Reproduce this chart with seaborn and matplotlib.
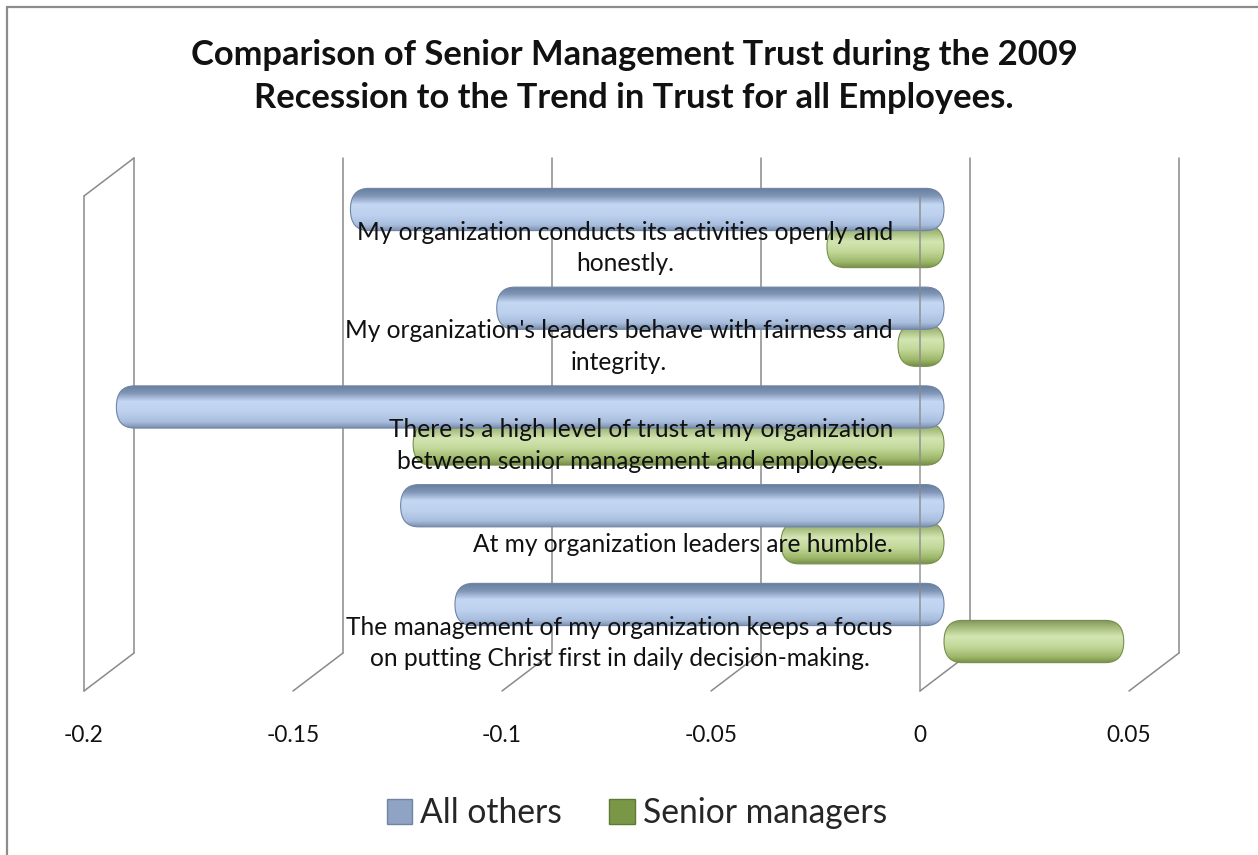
import numpy as np
import pandas as pd
import matplotlib
matplotlib.use("Agg")
import matplotlib.pyplot as plt
import seaborn as sns
from matplotlib.patches import FancyBboxPatch, Patch
from matplotlib.colors import LinearSegmentedColormap
from matplotlib.lines import Line2D

# ---------------- data ----------------
categories = [
    "My organization conducts its activities openly and\nhonestly.",
    "My organization's leaders behave with fairness and\nintegrity.",
    "There is a high level of trust at my organization\nbetween senior management and employees.",
    "At my organization leaders are humble.",
    "The management of my organization keeps a focus\non putting Christ first in daily decision-making.",
]
all_others = [-0.142, -0.107, -0.198, -0.130, -0.117]
senior_managers = [-0.028, -0.011, -0.127, -0.039, 0.043]
series_names = ["All others", "Senior managers"]
x_ticks = [-0.2, -0.15, -0.1, -0.05, 0, 0.05]
x_tick_labels = ["-0.2", "-0.15", "-0.1", "-0.05", "0", "0.05"]
title_lines = ["Comparison of Senior Management Trust during the 2009",
               "Recession to the Trend in Trust for all Employees."]

# ---------------- style ----------------
sns.set_theme(style="white")
plt.rcParams["font.family"] = ["Lato", "DejaVu Sans"]

W, H, DPI = 1258, 855, 100
fig = plt.figure(figsize=(W / DPI, H / DPI), dpi=DPI)
fig.patch.set_facecolor("white")

# plot area (mid depth plane of the pseudo 3-D box)
ax_left, ax_right, ax_top, ax_bottom = 108, 1153, 158, 700
back_bottom_px, front_bottom_px = 653, 691
ax = fig.add_axes([ax_left / W, 1 - ax_bottom / H,
                   (ax_right - ax_left) / W, (ax_bottom - ax_top) / H])
ax.set_facecolor("none")

df = pd.DataFrame({
    "category": categories * 2,
    "value": all_others + senior_managers,
    "series": [series_names[0]] * len(categories) + [series_names[1]] * len(categories),
})

legend_colors = ["#8FA4C4", "#7A9748"]
sns.barplot(data=df, y="category", x="value", hue="series", orient="h",
            order=categories, hue_order=series_names, palette=legend_colors,
            width=0.75, ax=ax, legend=False)

XMIN, XMAX = -0.2, 0.05
px_per_y = 98.75
YLIM = (4 + (ax_bottom - 623) / px_per_y, -(228 - ax_top) / px_per_y)
ax.set_xlim(XMIN, XMAX)
ax.set_ylim(*YLIM)

px_per_x = (ax_right - ax_left) / (XMAX - XMIN)
ax_h = ax_bottom - ax_top

# cylinder-like gradients
blue_cmap = LinearSegmentedColormap.from_list("b", [
    (0.0, "#687E9F"), (0.18, "#7F95B6"), (0.38, "#C4D7F3"),
    (0.62, "#BED2EF"), (0.86, "#A9BEDD"), (1.0, "#7A8FAF")])
green_cmap = LinearSegmentedColormap.from_list("g", [
    (0.0, "#80945F"), (0.16, "#A3BA7A"), (0.38, "#D3E5B1"),
    (0.62, "#C2D89A"), (0.86, "#9DB768"), (1.0, "#768D4C")])
cmaps = [blue_cmap, green_cmap]
edges = ["#6F85A6", "#76904A"]
zorders = [4, 3]

grad = np.linspace(0, 1, 128).reshape(-1, 1)
for hi, cont in enumerate(ax.containers):
    for bar in cont:
        x, y, w, h = bar.get_x(), bar.get_y(), bar.get_width(), bar.get_height()
        x0, x1 = min(x, x + w), max(x, x + w)
        cy = y + h / 2
        hh = abs(h) * 1.14
        rx = min(18 / px_per_x, (x1 - x0) / 2 * 0.98)
        ma = (hh / 2) / rx
        patch = FancyBboxPatch((x0, cy - hh / 2), x1 - x0, hh,
                               boxstyle=f"round,pad=0,rounding_size={rx}",
                               mutation_aspect=ma, facecolor="none",
                               edgecolor=edges[hi], linewidth=0.8,
                               zorder=zorders[hi] + 0.1)
        ax.add_patch(patch)
        im = ax.imshow(grad, cmap=cmaps[hi], extent=(x0, x1, cy + hh / 2, cy - hh / 2),
                       origin="upper", aspect="auto", interpolation="bilinear",
                       zorder=zorders[hi])
        im.set_clip_path(patch)
        bar.set_visible(False)

ax.set_xlim(XMIN, XMAX)
ax.set_ylim(*YLIM)
for s in ax.spines.values():
    s.set_visible(False)
ax.set_xticks([])
ax.set_yticks([])
ax.set_xlabel("")
ax.set_ylabel("")

# pseudo 3-D gridlines / walls
back_dx = 26 / px_per_x
front_dx = -24 / px_per_x
yb = (ax_bottom - back_bottom_px) / ax_h
yf = (ax_bottom - front_bottom_px) / ax_h
yf_top = 1 - (front_bottom_px - back_bottom_px) / ax_h
gcol, glw = "#8A8A8A", 1.1
xt = ax.get_xaxis_transform()
for v in x_ticks:
    ax.plot([v + back_dx, v + back_dx], [yb, 1], color=gcol, lw=glw, transform=xt,
            zorder=1, clip_on=False)
    ax.plot([v + back_dx, v + front_dx], [yb, yf], color=gcol, lw=glw,
            transform=xt, zorder=1, clip_on=False)
# left wall
v = x_ticks[0]
ax.plot([v + front_dx, v + front_dx], [yf, yf_top], color=gcol, lw=glw,
        transform=xt, zorder=1, clip_on=False)
ax.plot([v + front_dx, v + back_dx], [yf_top, 1], color=gcol, lw=glw,
        transform=xt, zorder=1, clip_on=False)
# vertical (category) axis at zero, front plane
ax.plot([0 + front_dx, 0 + front_dx], [yf, yf_top], color=gcol, lw=glw,
        transform=xt, zorder=6, clip_on=False, alpha=0.9)

# x tick labels on the front edge
renderer = fig.canvas.get_renderer()
tick_texts = []
for v, lab in zip(x_ticks, x_tick_labels):
    t = ax.text(v + front_dx, (ax_bottom - 735) / ax_h, lab,
                transform=xt, ha="center", va="center", fontsize=13,
                color="#111111", clip_on=False)
    tick_texts.append(t)
wt = tick_texts[1].get_window_extent(renderer).width
fs_tick = 13 * 53 / wt
for t in tick_texts:
    t.set_fontsize(fs_tick)

# category labels
label_dx = -51 / px_per_x
label_dy = 20 / px_per_y
cat_texts = []
for i, c in enumerate(categories):
    t = ax.text(label_dx, i + label_dy, c, ha="right", va="center",
                multialignment="center", fontsize=15, color="#111111",
                linespacing=1.45, zorder=8)
    cat_texts.append(t)
wc = cat_texts[0].get_window_extent(renderer).width
fs_cat = 15 * 538 / wc
for t in cat_texts:
    t.set_fontsize(fs_cat)

# title
t1 = fig.text(634 / W, 1 - 55 / H, title_lines[0], ha="center", va="center",
              fontsize=20, fontweight="bold", color="#111111")
t2 = fig.text(634 / W, 1 - 98 / H, title_lines[1], ha="center", va="center",
              fontsize=20, fontweight="bold", color="#111111")
w1 = t1.get_window_extent(renderer).width
fs_title = 20 * 888 / w1
t1.set_fontsize(fs_title)
t2.set_fontsize(fs_title)

# legend
tmp = fig.text(0, 0, "All others", fontsize=17)
wl = tmp.get_window_extent(renderer).width
fs_leg = 17 * 142 / wl
tmp.remove()
handles = [Patch(facecolor=legend_colors[0], edgecolor="#6F85A6"),
           Patch(facecolor=legend_colors[1], edgecolor="#5C7A34")]
fig.legend(handles, series_names, loc="center", bbox_to_anchor=(637 / W, 1 - 813 / H),
           ncol=2, frameon=False, fontsize=fs_leg, handlelength=0.75, handleheight=0.75,
           handletextpad=0.25, columnspacing=1.4)

# figure border (top and left)
fig.add_artist(Line2D([7 / W, 7 / W], [0, 1 - 7 / H], color="#8C8C8C", lw=1.6,
                      transform=fig.transFigure))
fig.add_artist(Line2D([7 / W, 1], [1 - 7 / H, 1 - 7 / H], color="#8C8C8C", lw=1.6,
                      transform=fig.transFigure))

fig.savefig("out.png", dpi=DPI, facecolor="white")
